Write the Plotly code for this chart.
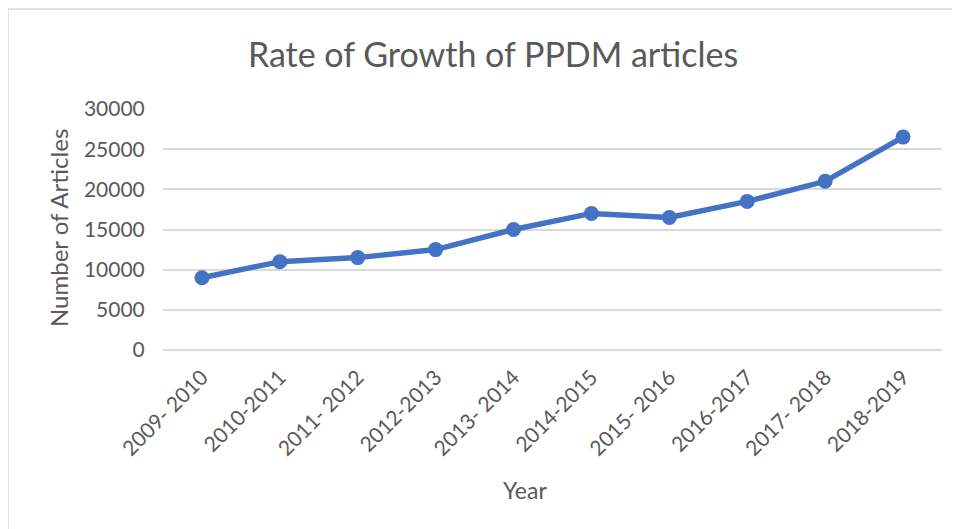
import plotly.graph_objects as go

years = ["2009- 2010", "2010-2011", "2011- 2012", "2012-2013", "2013- 2014",
         "2014-2015", "2015- 2016", "2016-2017", "2017- 2018", "2018-2019"]
articles = [9000, 11000, 11500, 12500, 15000, 17000, 16500, 18500, 21000, 26500]
y_ticks = [0, 5000, 10000, 15000, 20000, 25000, 30000]

FONT = "Lato, 'Open Sans', sans-serif"
GREY = "#595959"

# page has an 8px body margin; figure coords = page coords - 8
W, H = 952, 521
L, R, T, B = 155, 18, 101, 179
PW, PH = W - L - R, H - T - B

fig = go.Figure()
fig.add_trace(go.Scatter(
    x=years, y=articles, mode="lines+markers",
    line=dict(color="#4472C4", width=5.5),
    marker=dict(color="#4472C4", size=15),
    showlegend=False,
))

fig.update_layout(
    width=W, height=H,
    paper_bgcolor="white", plot_bgcolor="white",
    margin=dict(l=L, r=R, t=T, b=B, autoexpand=False),
    title=dict(text="Rate of Growth of PPDM articles", x=(493 - 8) / W, xanchor="center",
               y=1 - 47 / H, yanchor="middle",
               font=dict(family=FONT, size=34, color=GREY)),
    font=dict(family=FONT, color=GREY),
    xaxis=dict(
        type="category", range=[-0.5, len(years) - 0.5], tickangle=-45,
        showgrid=False, showline=False, automargin=False,
        ticks="", tickfont=dict(size=21, color=GREY), ticklabelstandoff=10,
    ),
    yaxis=dict(
        range=[0, 30000], tickvals=y_ticks, ticktext=[str(v) for v in y_ticks],
        automargin=False,
        showgrid=True, gridcolor="#d9d9d9", gridwidth=1.5,
        zeroline=True, zerolinecolor="#d9d9d9", zerolinewidth=1.5,
        showline=False, ticks="outside", ticklen=13, tickcolor="rgba(0,0,0,0)",
        tickfont=dict(size=21, color=GREY),
    ),
    annotations=[
        dict(text="Number of Articles", xref="paper", yref="paper",
             x=(50 - L) / PW, y=(342 - 220) / PH, xanchor="center", yanchor="middle",
             textangle=-90, showarrow=False, font=dict(size=24, color=GREY, family=FONT)),
        dict(text="Year", xref="paper", yref="paper",
             x=(517 - L) / PW, y=(342 - 482) / PH, xanchor="center", yanchor="middle",
             showarrow=False, font=dict(size=23, color=GREY, family=FONT)),
    ],
    shapes=[dict(type="rect", xref="paper", yref="paper",
                 x0=(0 - L) / PW, x1=(W + 10 - L) / PW,
                 y0=(342 - H - 10) / PH, y1=(342 - 1) / PH,
                 line=dict(color="#d9d9d9", width=1.5), fillcolor="rgba(0,0,0,0)",
                 layer="below")],
)

fig.write_html("out.html")
